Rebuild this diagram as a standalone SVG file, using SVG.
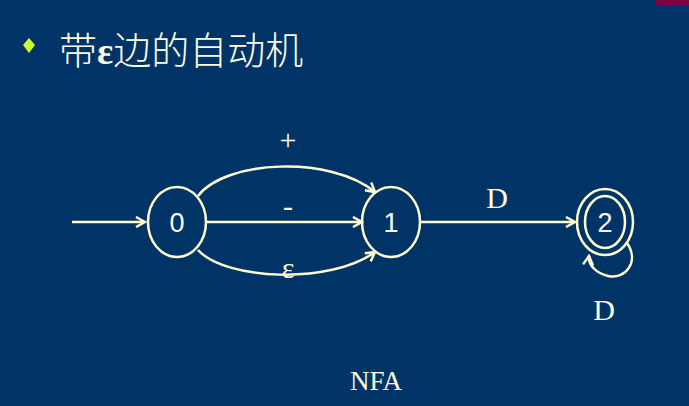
<svg xmlns="http://www.w3.org/2000/svg" width="689" height="406" viewBox="0 0 689 406">
<style>
.n{fill:none;stroke:#fffdd0;stroke-width:2.5}
.c{fill:none;stroke:#fffdd0;stroke-width:2.5}
.lbl{font-family:"Liberation Sans",sans-serif;font-size:27px;fill:#ffffff;text-anchor:middle}
.ser{font-family:"Liberation Serif",serif;font-size:30px;fill:#fffde0;text-anchor:middle}
</style>
<defs><marker id="b" viewBox="0 0 12 12" refX="10" refY="6" markerWidth="12" markerHeight="12" orient="auto" markerUnits="userSpaceOnUse"><path d="M1,1L10,6L1,11" fill="none" stroke="#fffdd0" stroke-width="2.5"/></marker></defs>
<rect width="689" height="406" fill="#003366"/>
<rect x="656" y="0" width="33" height="5" fill="#800040"/>
<path d="M29,38L35,45L29,53L23,45Z" fill="#ccff33"/>
<text x="59" y="64" font-family="Noto Sans CJK SC,sans-serif" font-size="38" font-weight="300" fill="#fffde0">带<tspan font-family="Liberation Serif,serif" font-weight="bold">ε</tspan>边的自动机</text>
<g id="edges">
<path class="c" d="M72,222H145" marker-end="url(#b)"/>
<path class="c" d="M206,222H362" marker-end="url(#b)"/>
<path class="c" d="M198,196C225,160 330,155 375,192" marker-end="url(#b)"/>
<path class="c" d="M198,250C225,280 330,285 375,252" marker-end="url(#b)"/>
<path class="c" d="M421,222H575" marker-end="url(#b)"/>
<path class="c" d="M627,243C640,262 625,280 608,276C596,273 588,265 589,256" marker-end="url(#b)"/>
<text class="ser" x="288" y="150">+</text>
<text class="ser" x="288" y="216">-</text>
<text class="ser" x="288" y="278">ε</text>
<text class="ser" x="497" y="208">D</text>
<text class="ser" x="604" y="320">D</text>
</g>
<g id="n0"><ellipse class="n" cx="177" cy="222" rx="29" ry="35"/><text class="lbl" x="177" y="232">0</text></g>
<g id="n1"><ellipse class="n" cx="391" cy="222" rx="29" ry="35"/><text class="lbl" x="391" y="232">1</text></g>
<g id="n2"><ellipse class="n" cx="605" cy="222" rx="28" ry="33"/><ellipse class="n" cx="605" cy="222" rx="20" ry="26"/><text class="lbl" x="605" y="232">2</text></g>
<text x="376" y="390" font-family="Liberation Serif,serif" font-size="27" fill="#fffde0" text-anchor="middle">NFA</text>
</svg>
